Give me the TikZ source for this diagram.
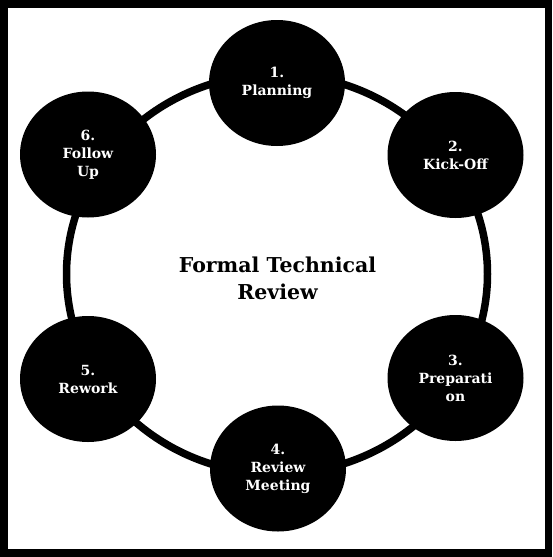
\documentclass[tikz,border=0pt]{standalone}
\usepackage{fontspec}
\setmainfont{DejaVu Serif}
\usetikzlibrary{shapes.geometric}
\begin{document}
\begin{tikzpicture}[x=1pt,y=-1pt,
  stage/.style={ellipse, fill=black, text=white, inner sep=0pt,
    minimum width=136pt, minimum height=126pt, align=center,
    font=\bfseries\fontsize{14}{18}\selectfont},
  title/.style={align=center, font=\bfseries\fontsize{20.5}{27}\selectfont},
  ring/.style={line width=7.5pt, draw=black}]
  \useasboundingbox (0,0) rectangle (552,557);
  % outer frame
  \fill[black] (0,0) rectangle (552,557);
  \fill[white] (8,8) rectangle (545,549);
  % cycle ring behind the stages
  \draw[ring] (277,274) ellipse [x radius=210.5pt, y radius=200pt];
  % stages
  \node[stage] (plan)   at (277,83)    {1.\\Planning};
  \node[stage] (kick)   at (455.5,155) {2.\\Kick-Off};
  \node[stage] (prep)   at (455.5,378) {3.\\Preparati\\on};
  \node[stage] (meet)   at (278,468.5) {4.\\Review\\Meeting};
  \node[stage] (rework) at (88,379)    {5.\\Rework};
  \node[stage] (follow) at (88,154.5)  {6.\\Follow\\Up};
  % centre title
  \node[title] (ftr) at (277.5,278.5) {Formal Technical\\Review};
\end{tikzpicture}
\end{document}
